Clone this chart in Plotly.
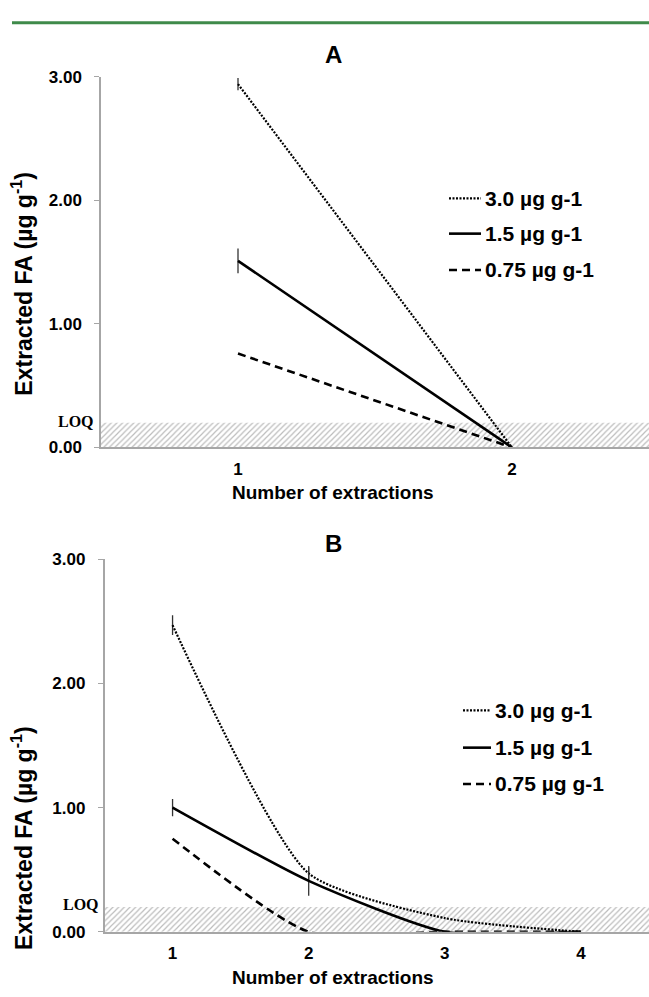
import plotly.graph_objects as go

# ---------------- data ----------------
series_names = ["3.0 µg g-1", "1.5 µg g-1", "0.75 µg g-1"]

cats_a = [1, 2]
a_30 = [2.94, 0.00]
a_30_err = [0.05, 0.0]
a_15 = [1.51, 0.00]
a_15_err = [0.10, 0.0]
a_075 = [0.76, 0.00]
a_075_err = [0.0, 0.0]

cats_b = [1, 2, 3, 4]
b_30 = [2.47, 0.47, 0.11, 0.00]
b_30_err = [0.08, 0.05, 0.0, 0.0]
b_15 = [1.00, 0.41, 0.00, 0.00]
b_15_err = [0.07, 0.12, 0.0, 0.0]
b_075 = [0.75, 0.00, 0.00, 0.00]
b_075_err = [0.0, 0.0, 0.0, 0.0]

loq = 0.2
y_ticks = [0.0, 1.0, 2.0, 3.0]
y_tick_text = ["0.00", "1.00", "2.00", "3.00"]

# ---------------- style ----------------
W, H = 649, 997
FONT = "Liberation Sans, Arial, sans-serif"
SERIF = "Liberation Serif, Times New Roman, serif"
AXIS_GRAY = "#a6a6a6"
DOT = "2px,1.5px"
DASH = "8px,5px"
styles = [dict(dash=DOT, width=2.2), dict(dash="solid", width=2.6), dict(dash=DASH, width=2.6)]


def px(x):
    return x / W


def py(y):
    return 1 - y / H


fig = go.Figure()

panels = [
    dict(cats=cats_a, ys=[a_30, a_15, a_075], errs=[a_30_err, a_15_err, a_075_err],
         xa="x", ya="y", xrange=[0.5, 2.5]),
    dict(cats=cats_b, ys=[b_30, b_15, b_075], errs=[b_30_err, b_15_err, b_075_err],
         xa="x2", ya="y2", xrange=[0.5, 4.5]),
]

for p in panels:
    # LOQ hatched band
    x0, x1 = p["xrange"]
    fig.add_trace(go.Scatter(
        x=[x0, x1, x1, x0, x0], y=[0, 0, loq, loq, 0], xaxis=p["xa"], yaxis=p["ya"],
        mode="lines", line=dict(width=0), fill="toself", fillcolor="rgba(0,0,0,0)",
        fillpattern=dict(shape="/", fgcolor="#7a7a7a", bgcolor="white", size=4, solidity=0.3),
        hoverinfo="skip", showlegend=False))
    for name, ys, errs, st in zip(series_names, p["ys"], p["errs"], styles):
        fig.add_trace(go.Scatter(
            x=p["cats"], y=ys, xaxis=p["xa"], yaxis=p["ya"], name=name, mode="lines",
            line=dict(color="black", width=st["width"], dash=st["dash"], shape="spline", smoothing=0.6),
            error_y=dict(type="data", array=errs, visible=True, color="#333333", thickness=1.3, width=0),
            showlegend=False))

axis_common = dict(showgrid=False, zeroline=False, showline=True, linecolor=AXIS_GRAY, linewidth=1.5)
yaxis_common = dict(range=[0, 3], tickvals=y_ticks, ticktext=y_tick_text,
                    ticks="outside", ticklen=5, tickcolor=AXIS_GRAY, tickwidth=1.2,
                    ticklabelstandoff=9, tickfont=dict(size=17, weight="bold"), **axis_common)
xaxis_common = dict(ticks="", ticklabelstandoff=5, tickfont=dict(size=17, weight="bold"), **axis_common)
fig.update_layout(
    width=W, height=H, margin=dict(l=0, r=0, t=0, b=0),
    paper_bgcolor="white", plot_bgcolor="white",
    font=dict(family=FONT, color="black"),
    xaxis=dict(domain=[px(101), 1.0], range=[0.5, 2.5], tickvals=cats_a, anchor="y", **xaxis_common),
    yaxis=dict(domain=[py(447), py(69)], anchor="x", **yaxis_common),
    xaxis2=dict(domain=[px(104.5), 1.0], range=[0.5, 4.5], tickvals=cats_b, anchor="y2", **xaxis_common),
    yaxis2=dict(domain=[py(940.7), py(561)], anchor="x2", **yaxis_common),
)

# top green rule
fig.add_shape(type="line", xref="paper", yref="paper", x0=px(12), x1=1.0, y0=py(14), y1=py(14),
              line=dict(color="#3f8a4a", width=3))

ann = []
# panel titles
ann.append(dict(text="A", x=px(333), y=py(46), font=dict(size=24, weight="bold")))
ann.append(dict(text="B", x=px(333), y=py(545), font=dict(size=24, weight="bold")))
# x axis titles
ann.append(dict(text="Number of extractions", x=px(333), y=py(493), font=dict(size=19, weight="bold")))
ann.append(dict(text="Number of extractions", x=px(333), y=py(987), font=dict(size=19, weight="bold")))
# y axis titles
ytitle = "Extracted FA (µg g<sup>-1</sup>)"
ann.append(dict(text=ytitle, x=px(22), y=py(280), textangle=-90, font=dict(size=23, weight="bold")))
ann.append(dict(text=ytitle, x=px(22), y=py(845), textangle=-90, font=dict(size=23, weight="bold")))
# LOQ labels
ann.append(dict(text="LOQ", x=px(96), y=py(421), xanchor="right", font=dict(family=SERIF, size=16, weight="bold")))
ann.append(dict(text="LOQ", x=px(101), y=py(913), xanchor="right", font=dict(family=SERIF, size=16, weight="bold")))

# legends (text + sample line)
legend_pos = [
    dict(ys=[193, 229, 266], s0=449, s1=481, tx=483),
    dict(ys=[715, 753, 790], s0=463, s1=491, tx=493),
]
for lp in legend_pos:
    for name, yy, st in zip(series_names, lp["ys"], styles):
        fig.add_shape(type="line", xref="paper", yref="paper", x0=px(lp["s0"]), x1=px(lp["s1"]),
                      y0=py(yy), y1=py(yy), line=dict(color="black", width=st["width"], dash=st["dash"]))
        ann.append(dict(text=name, x=px(lp["tx"]), y=py(yy), xanchor="left",
                        font=dict(size=21, weight="bold")))

for a in ann:
    a.setdefault("xref", "paper")
    a.setdefault("yref", "paper")
    a.setdefault("showarrow", False)
    a.setdefault("xanchor", "center")
    a.setdefault("yanchor", "middle")
    fig.add_annotation(**a)

fig.write_html("out.html", config={"displayModeBar": False},
               post_script="document.body.style.margin='0px';")
